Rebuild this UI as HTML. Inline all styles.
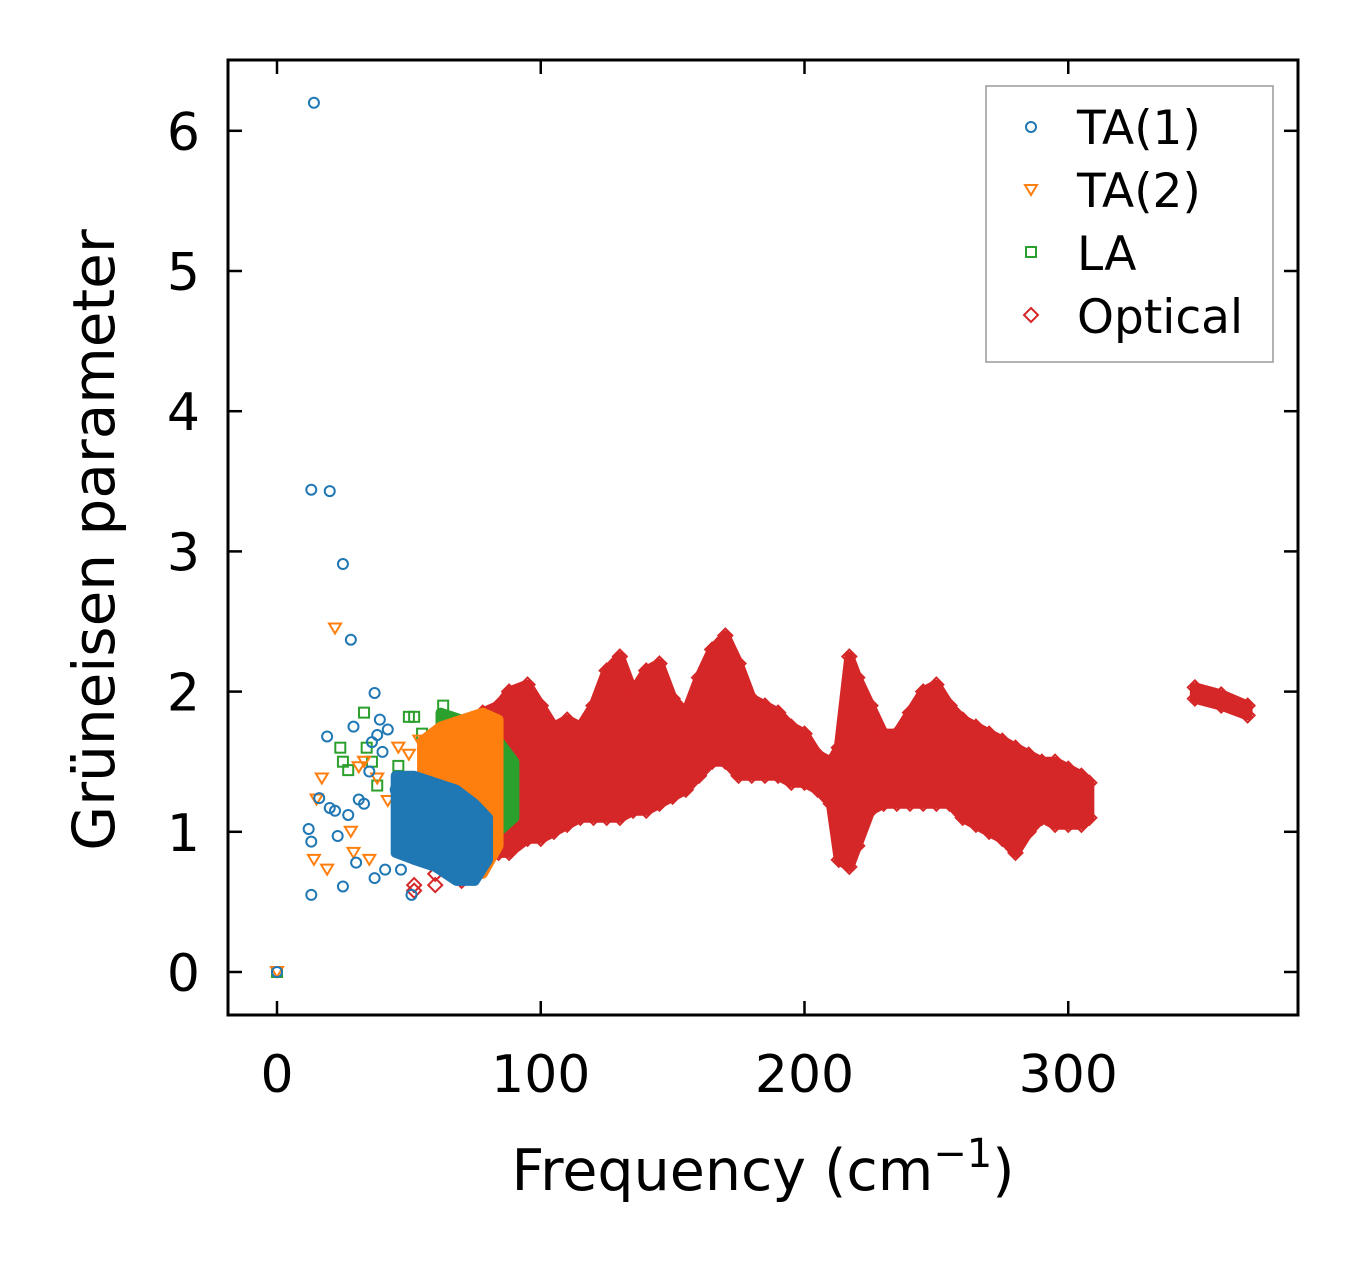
<!DOCTYPE html>
<html><head><meta charset="utf-8"><style>
html,body{margin:0;padding:0;background:#fff;}
svg text{font-family:"DejaVu Sans","Liberation Sans",sans-serif;fill:#000;}
</style></head><body>
<svg id="chart" width="1357" height="1264" viewBox="0 0 1357 1264" xmlns="http://www.w3.org/2000/svg">
<g id="marks"></g>
<rect x="228" y="60" width="1070" height="955" fill="none" stroke="#000" stroke-width="3"/>
<g id="axes"></g>
<text x="763" y="1190" font-size="57" text-anchor="middle">Frequency (cm<tspan dy="-23" font-size="40">−1</tspan><tspan dy="23">)</tspan></text>
<text transform="translate(114,540) rotate(-90)" font-size="58" text-anchor="middle">Grüneisen parameter</text>
<g>
<rect x="986" y="86" width="287" height="276" fill="#fff" stroke="#999" stroke-width="1.5"/>
<circle cx="1031" cy="127" r="5" fill="none" stroke="#1f77b4" stroke-width="2"/>
<text x="1077" y="144" font-size="47">TA(1)</text>
<path d="M1025,185 L1037,185 L1031,195 Z" fill="none" stroke="#ff7f0e" stroke-width="2"/>
<text x="1077" y="207" font-size="47">TA(2)</text>
<rect x="1026" y="247" width="10" height="10" fill="none" stroke="#2ca02c" stroke-width="2"/>
<text x="1077" y="270" font-size="47">LA</text>
<path d="M1031,308 L1038,315 L1031,322 L1024,315 Z" fill="none" stroke="#d62728" stroke-width="2"/>
<text x="1077" y="333" font-size="47">Optical</text>
</g>
</svg>
<script>
const xTicks=[0,100,200,300];
const yTicks=[0,1,2,3,4,5,6];
// optical envelope: frequency, lower gamma, upper gamma
const optFreq=[52,60,70,78,84,88,95,100,105,110,115,120,125,130,135,140,145,150,155,160,165,170,175,180,185,190,195,200,205,210,213,217,220,225,230,235,240,245,250,255,260,265,270,275,280,285,290,295,300,305,308];
const optLo=[0.58,0.62,0.65,0.85,0.85,0.85,0.95,0.95,1.0,1.05,1.1,1.1,1.1,1.1,1.15,1.15,1.2,1.25,1.3,1.4,1.5,1.5,1.4,1.4,1.4,1.4,1.35,1.35,1.3,1.2,0.8,0.75,0.9,1.15,1.2,1.2,1.2,1.2,1.2,1.2,1.1,1.05,1.0,0.95,0.85,1.0,1.1,1.05,1.05,1.05,1.1];
const optHi=[0.62,0.7,0.8,1.85,1.9,2.0,2.05,1.9,1.75,1.8,1.75,1.9,2.15,2.25,2.0,2.15,2.2,1.95,1.85,2.1,2.3,2.4,2.2,1.95,1.9,1.85,1.75,1.7,1.55,1.5,1.6,2.25,2.1,1.9,1.7,1.7,1.85,2.0,2.05,1.9,1.8,1.75,1.7,1.65,1.6,1.55,1.5,1.5,1.45,1.4,1.35];
const opt2Freq=[348,358,368];
const opt2Lo=[1.95,1.9,1.83];
const opt2Hi=[2.03,1.98,1.9];
// LA cluster envelope
const laFreq=[62,70,78,84,90];
const laLo=[1.0,0.95,0.95,1.0,1.1];
const laHi=[1.85,1.8,1.75,1.65,1.5];
const laX=[0,24,25,27,33,34,36,38,46,50,52,55,63,58];
const laY=[0,1.6,1.5,1.44,1.85,1.6,1.5,1.33,1.47,1.82,1.82,1.7,1.9,1.55];
// TA2 cluster
const ta2Freq=[55,62,70,78,84];
const ta2Lo=[0.8,0.85,0.75,0.7,0.9];
const ta2Hi=[1.65,1.75,1.8,1.85,1.8];
const ta2X=[0,22,17,15,14,19,29,28,31,33,35,38,42,46,50,54];
const ta2Y=[0,2.45,1.38,1.23,0.8,0.73,0.85,1.0,1.46,1.5,0.8,1.38,1.22,1.6,1.55,1.65];
// TA1 cluster
const ta1Freq=[45,52,60,68,75,80];
const ta1Lo=[0.85,0.8,0.75,0.65,0.65,0.8];
const ta1Hi=[1.4,1.4,1.35,1.3,1.2,1.1];
const ta1X=[0,14,13,20,25,28,37,12,13,16,19,20,22,23,25,27,29,30,31,33,35,36,37,38,39,40,41,42,45,47,51,13];
const ta1Y=[0,6.2,3.44,3.43,2.91,2.37,1.99,1.02,0.93,1.24,1.68,1.17,1.15,0.97,0.61,1.12,1.75,0.78,1.23,1.2,1.43,1.64,0.67,1.69,1.8,1.57,0.73,1.73,1.3,0.73,0.55,0.55];
const X=v=>277+v*2.6375, Y=v=>972-v*140.2;
const NS='http://www.w3.org/2000/svg';
const marks=document.getElementById('marks'), axes=document.getElementById('axes');
function mk(t,a,parent){const e=document.createElementNS(NS,t);for(const k in a)e.setAttribute(k,a[k]);(parent||marks).appendChild(e);return e;}
function band(fr,lo,hi,color,name){
  let d='M'+fr.map((f,i)=>X(f)+','+Y(hi[i])).join(' L');
  d+=' L'+fr.map((f,i)=>X(f)+','+Y(lo[i])).reverse().join(' L')+' Z';
  const p=mk('path',{d:d,fill:color,stroke:color,'stroke-width':10,'stroke-linejoin':'round'});
  
  
}
function marker(kind,x,y,color,name){
  const cx=X(x),cy=Y(y);let e;
  if(kind==='o')e=mk('circle',{cx:cx,cy:cy,r:5,fill:'none',stroke:color,'stroke-width':2});
  else if(kind==='v')e=mk('path',{d:`M${cx-6},${cy-5} L${cx+6},${cy-5} L${cx},${cy+5} Z`,fill:'none',stroke:color,'stroke-width':2});
  else if(kind==='s')e=mk('rect',{x:cx-5,y:cy-5,width:10,height:10,fill:'none',stroke:color,'stroke-width':2});
  else e=mk('path',{d:`M${cx},${cy-7} L${cx+7},${cy} L${cx},${cy+7} L${cx-7},${cy} Z`,fill:'none',stroke:color,'stroke-width':2});
  
  
}
const R='#d62728',G='#2ca02c',O='#ff7f0e',B='#1f77b4';
band(optFreq.slice(3),optLo.slice(3),optHi.slice(3),R,'optical-band');
band(opt2Freq,opt2Lo,opt2Hi,R,'optical-band-high');
optFreq.forEach((f,i)=>{marker('d',f,optLo[i],R,'optical-point');marker('d',f,optHi[i],R,'optical-point');});
opt2Freq.forEach((f,i)=>{marker('d',f,opt2Lo[i],R,'optical-point');marker('d',f,opt2Hi[i],R,'optical-point');});
band(laFreq,laLo,laHi,G,'la-band');
laX.forEach((f,i)=>marker('s',f,laY[i],G,'la-point'));
band(ta2Freq,ta2Lo,ta2Hi,O,'ta2-band');
ta2X.forEach((f,i)=>marker('v',f,ta2Y[i],O,'ta2-point'));
band(ta1Freq,ta1Lo,ta1Hi,B,'ta1-band');
ta1X.forEach((f,i)=>marker('o',f,ta1Y[i],B,'ta1-point'));
xTicks.forEach(v=>{
  const x=X(v);
  let l=mk('line',{x1:x,x2:x,y1:1015,y2:1001,stroke:'#000','stroke-width':2.5},axes);
  
  l=mk('line',{x1:x,x2:x,y1:60,y2:74,stroke:'#000','stroke-width':2.5},axes);
  
  const t=mk('text',{x:x,y:1092,'font-size':52,'text-anchor':'middle'},axes);t.textContent=v;
  
});
yTicks.forEach(v=>{
  const y=Y(v);
  let l=mk('line',{x1:228,x2:242,y1:y,y2:y,stroke:'#000','stroke-width':2.5},axes);
  
  l=mk('line',{x1:1284,x2:1298,y1:y,y2:y,stroke:'#000','stroke-width':2.5},axes);
  
  const t=mk('text',{x:200,y:y+19,'font-size':52,'text-anchor':'end'},axes);t.textContent=v;
  
});
</script>
</body></html>
